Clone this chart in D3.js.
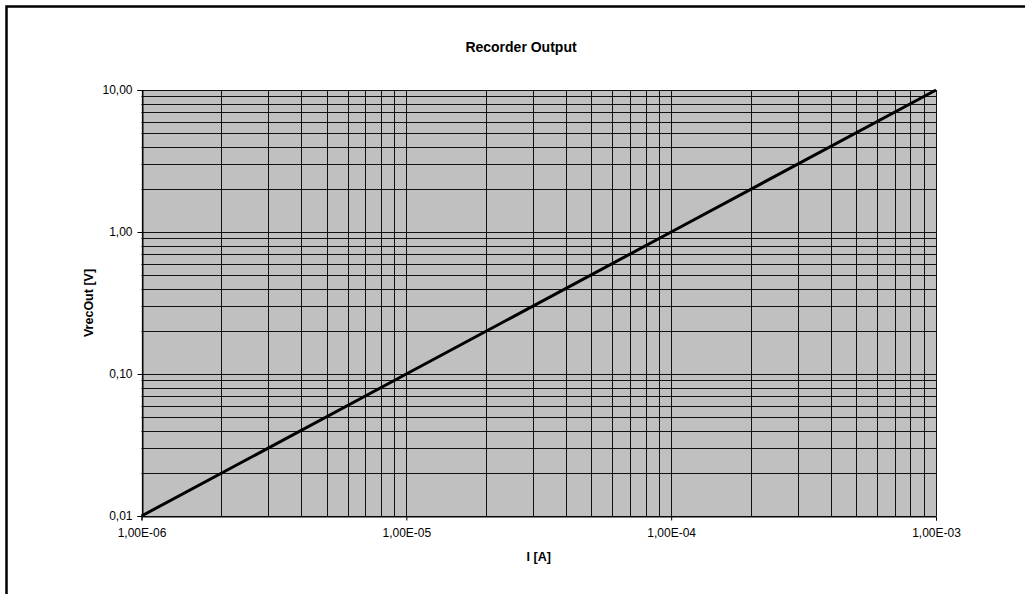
<!DOCTYPE html>
<html>
<head>
<meta charset="utf-8">
<script src="https://cdn.jsdelivr.net/npm/d3@7"></script>
<style>
  body { margin: 0; background: #fff; }
  svg { display: block; font-family: "Liberation Sans", Arial, sans-serif; }
</style>
</head>
<body>
<div id="chart"></div>
<script>
// data
var currents = [1e-6, 1e-5, 1e-4, 1e-3];
var voltages = [0.01, 0.1, 1, 10];
var xTicks = [1e-6, 1e-5, 1e-4, 1e-3];
var yTicks = [0.01, 0.1, 1, 10];
var title = "Recorder Output";
var xLabel = "I [A]";
var yLabel = "VrecOut [V]";

var w = 1025;
var h = 594;
// plot box (note: "top" is taken by window.top)
var plotL = 141.5, plotR = 936, plotT = 90, plotB = 516;

var svg = d3.select("#chart")
  .append("svg")
  .attr("width", w)
  .attr("height", h);

// outer frame (cropped on the right and bottom)
svg.append("rect")
  .attr("x", 6.5)
  .attr("y", 6.5)
  .attr("width", 1200)
  .attr("height", 800)
  .attr("fill", "none")
  .attr("stroke", "#000")
  .attr("stroke-width", 2.5);

var x = d3.scaleLog().domain([1e-6, 1e-3]).range([plotL, plotR]);
var y = d3.scaleLog().domain([0.01, 10]).range([plotB, plotT]);

svg.append("rect")
  .attr("x", plotL)
  .attr("y", plotT)
  .attr("width", plotR - plotL)
  .attr("height", plotB - plotT)
  .attr("fill", "#c0c0c0");

// minor + major grid
var xGrid = [];
for (var e = -6; e < -3; e++) {
  for (var k = 1; k < 10; k++) xGrid.push(k * Math.pow(10, e));
}
xGrid.push(1e-3);
var yGrid = [];
for (var e2 = -2; e2 < 1; e2++) {
  for (var k2 = 1; k2 < 10; k2++) yGrid.push(k2 * Math.pow(10, e2));
}
yGrid.push(10);

svg.append("g").selectAll("line")
  .data(xGrid)
  .enter()
  .append("line")
  .attr("x1", function(d) { return Math.round(x(d)) + 0.5; })
  .attr("x2", function(d) { return Math.round(x(d)) + 0.5; })
  .attr("y1", plotT)
  .attr("y2", plotB)
  .attr("stroke", "#111")
  .attr("stroke-width", 1);

svg.append("g").selectAll("line")
  .data(yGrid)
  .enter()
  .append("line")
  .attr("x1", plotL)
  .attr("x2", plotR)
  .attr("y1", function(d) { return Math.round(y(d)) + 0.5; })
  .attr("y2", function(d) { return Math.round(y(d)) + 0.5; })
  .attr("stroke", "#111")
  .attr("stroke-width", 1);

function fmtX(d) {
  var s = d.toExponential(2).replace(".", ",");
  var parts = s.split("e");
  var ex = parseInt(parts[1]);
  var sign = ex < 0 ? "-" : "+";
  var abs = Math.abs(ex);
  return parts[0] + "E" + sign + (abs < 10 ? "0" + abs : abs);
}
function fmtY(d) {
  return d.toFixed(2).replace(".", ",");
}

var xAxis = svg.append("g")
  .attr("transform", "translate(0," + (plotB + 0.5) + ")")
  .call(d3.axisBottom(x).tickValues(xTicks).tickFormat(fmtX).tickSize(4).tickPadding(8));
var yAxis = svg.append("g")
  .attr("transform", "translate(" + (Math.round(plotL) + 0.5) + ",0)")
  .call(d3.axisLeft(y).tickValues(yTicks).tickFormat(fmtY).tickSize(5).tickPadding(5));

[xAxis, yAxis].forEach(function(a) {
  a.selectAll("text").attr("font-size", "12px").attr("fill", "#000")
    .attr("font-family", "'Liberation Sans', Arial, sans-serif");
  a.selectAll("line").attr("stroke", "#000");
  a.select(".domain").attr("stroke", "#000");
});

// the line
var line = d3.line()
  .x(function(d, i) { return x(currents[i]); })
  .y(function(d) { return y(d); });

svg.append("path")
  .datum(voltages)
  .attr("d", line)
  .attr("fill", "none")
  .attr("stroke", "#000")
  .attr("stroke-width", 3);

svg.append("text")
  .text(title)
  .attr("x", 521)
  .attr("y", 52)
  .attr("text-anchor", "middle")
  .attr("font-size", "14px")
  .attr("font-weight", "bold");

svg.append("text")
  .text(xLabel)
  .attr("x", (plotL + plotR) / 2)
  .attr("y", 561)
  .attr("text-anchor", "middle")
  .attr("font-size", "12.5px")
  .attr("font-weight", "bold");

svg.append("text")
  .text(yLabel)
  .attr("transform", "translate(93," + ((plotT + plotB) / 2) + ") rotate(-90)")
  .attr("text-anchor", "middle")
  .attr("font-size", "12.5px")
  .attr("font-weight", "bold");
</script>
</body>
</html>
